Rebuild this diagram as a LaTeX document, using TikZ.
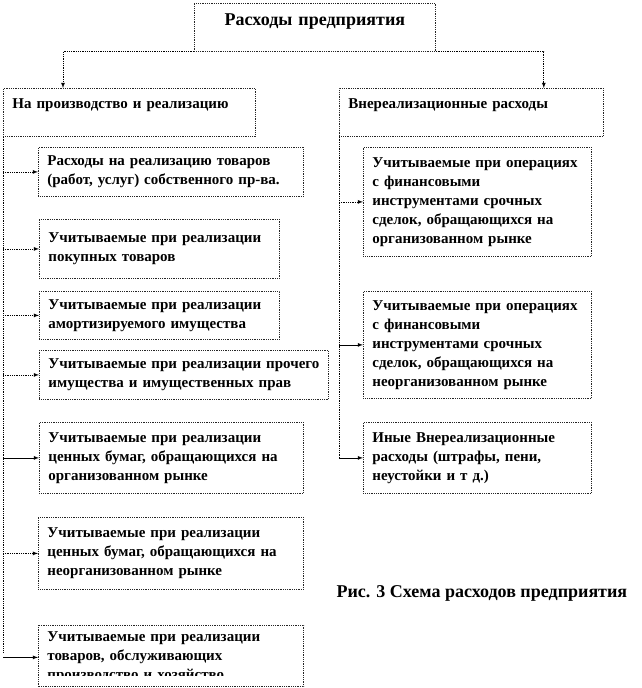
\documentclass[tikz,border=0pt]{standalone}
\usepackage{fontspec}
\setmainfont{Liberation Serif}
\tikzset{
  frame/.style={draw=black!85, densely dotted, line width=0.8pt},
  box/.style={frame, anchor=north west, inner xsep=9pt, inner ysep=4pt, align=left,
    font=\bfseries\fontsize{15}{19}\selectfont},
  head/.style={box, text height=16pt, text depth=24pt},
  link/.style={densely dotted, line width=0.8pt},
  solidlink/.style={line width=0.8pt},
}
\begin{document}
\begin{tikzpicture}[x=1pt,y=-1pt,>=latex]
  \useasboundingbox (0,0) rectangle (642,688);
  \node[box, align=center, text width=223pt, text height=18pt, text depth=22pt,
    font=\bfseries\fontsize{18}{21}\selectfont] (top) at (194,3) {Расходы предприятия};
  \node[head, text width=234pt] (L0) at (3,88) {На производство и реализацию};
  \node[head, text width=246pt] (R0) at (339,88) {Внереализационные расходы};
  % left column
  \node[box, text width=247pt, minimum height=49pt] (l1) at (38,147)
    {Расходы на  реализацию товаров\\(работ, услуг)  собственного пр-ва.};
  \node[box, text width=222pt, minimum height=59pt] (l2) at (39,219)
    {Учитываемые при реализации\\покупных товаров};
  \node[box, text width=222pt, minimum height=48pt] (l3) at (39,291)
    {Учитываемые при реализации\\амортизируемого  имущества};
  \node[box, text width=271pt, minimum height=49pt] (l4) at (39,350)
    {Учитываемые при реализации прочего\\имущества  и имущественных прав};
  \node[box, text width=246pt, minimum height=71pt] (l5) at (39,422)
    {Учитываемые при реализации\\ценных бумаг,  обращающихся  на\\организованном рынке};
  \node[box, text width=247pt, minimum height=72pt] (l6) at (38,517)
    {Учитываемые при реализации\\ценных бумаг,  обращающихся  на\\неорганизованном рынке};
  \begin{scope}
    \clip (0,625) rectangle (642,675);
    \node[box, draw=none, text width=247pt, minimum height=64pt] (l7) at (38,625)
      {Учитываемые при реализации\\товаров, обслуживающих\\производство и хозяйство};
  \end{scope}
  \draw[frame] (l7.north west) rectangle ([yshift=3pt]l7.south east);
  % right column
  \node[box, text width=210pt, minimum height=109pt] (r1) at (363,147)
    {Учитываемые при  операциях\\с финансовыми\\инструментами срочных\\сделок, обращающихся  на\\организованном рынке};
  \node[box, text width=210pt, minimum height=107pt] (r2) at (363,291)
    {Учитываемые при  операциях\\с финансовыми\\инструментами срочных\\сделок, обращающихся  на\\неорганизованном рынке};
  \node[box, text width=210pt, minimum height=71pt] (r3) at (363,422)
    {Иные Внереализационные\\расходы (штрафы,  пени,\\неустойки и т д.)};
  \node[anchor=west, font=\bfseries\fontsize{18}{21}\selectfont] (cap) at (333,593)
    {Рис. 3 Схема расходов предприятия};
  % connectors
  \draw[link,->] (top.south west) -| ([xshift=60pt]L0.north west);
  \draw[link,->] (top.south east) -| ([xshift=-60pt]R0.north east);
  \draw[link] (L0.south west) -- ([yshift=5pt]L0.south west |- l7.west);
  \draw[link,->] (L0.south west |- l1.west) -- (l1.west);
  \draw[link,->] (L0.south west |- l2.west) -- (l2.west);
  \draw[link,->] (L0.south west |- l3.west) -- (l3.west);
  \draw[link,->] (L0.south west |- l4.west) -- (l4.west);
  \draw[solidlink,->] (L0.south west |- l5.west) -- (l5.west);
  \draw[link,->] (L0.south west |- l6.west) -- (l6.west);
  \draw[solidlink,->] (L0.south west |- l7.west) -- (l7.west);
  \draw[link] (R0.south west) -- (R0.south west |- r3.west);
  \draw[link,->] (R0.south west |- r1.west) -- (r1.west);
  \draw[solidlink,->] (R0.south west |- r2.west) -- (r2.west);
  \draw[solidlink,->] (R0.south west |- r3.west) -- (r3.west);
\end{tikzpicture}
\end{document}
